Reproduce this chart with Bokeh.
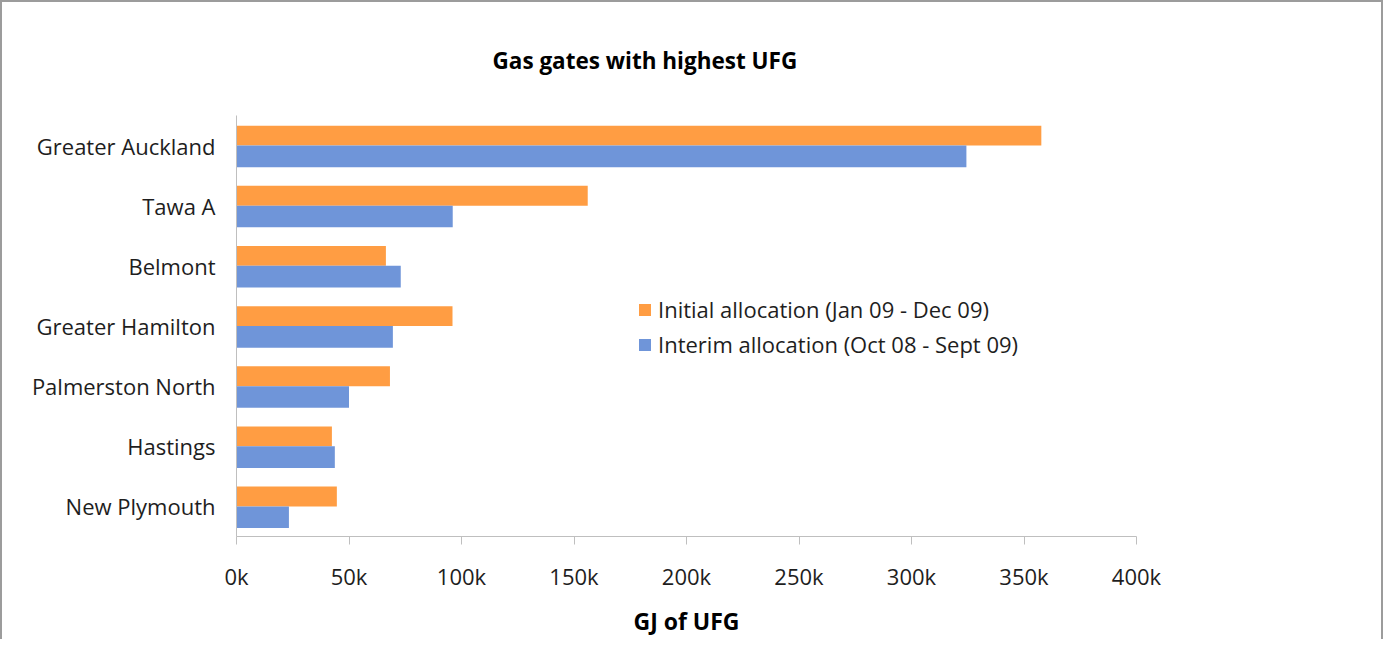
from bokeh.plotting import figure
from bokeh.layouts import column
from bokeh.models import ColumnDataSource, FactorRange, Range1d, FixedTicker, Legend, LegendItem
from bokeh.transform import dodge
from bokeh.embed import file_html
from bokeh.resources import INLINE

categories = ["Greater Auckland", "Tawa A", "Belmont", "Greater Hamilton",
              "Palmerston North", "Hastings", "New Plymouth"]
initial_alloc = [357700, 156100, 66400, 96000, 68200, 42400, 44600]
interim_alloc = [324400, 96100, 73000, 69500, 50000, 43700, 23300]
tick_values = [0, 50000, 100000, 150000, 200000, 250000, 300000, 350000, 400000]
tick_labels = ["0k", "50k", "100k", "150k", "200k", "250k", "300k", "350k", "400k"]
series_names = ["Initial allocation (Jan 09 - Dec 09)", "Interim allocation (Oct 08 - Sept 09)"]
title_text = "Gas gates with highest UFG"
x_title = "GJ of UFG"

ORANGE = "#FF9D43"
BLUE = "#6F95D9"
FONT = "Open Sans"
TXT = "#1E1E1E"

src = ColumnDataSource(dict(cat=categories, initial=initial_alloc, interim=interim_alloc))

p = figure(width=1379, height=637, output_backend="svg", toolbar_location=None,
           y_range=FactorRange(factors=list(reversed(categories)), range_padding=0),
           x_range=Range1d(0, 400000),
           min_border_left=234, min_border_right=245, min_border_top=113, min_border_bottom=102)
p.outline_line_color = None
p.background_fill_color = "white"
p.border_fill_color = "white"

p.title.text = title_text
p.title.text_font = FONT
p.title.text_font_style = "bold"
p.title.text_font_size = "22.5px"
p.title.text_color = "black"
p.title.align = "left"
p.title.offset = 256
p.title.standoff = 79

r1 = p.hbar(y=dodge("cat", 0.165, range=p.y_range), right="initial", left=0, height=0.33,
            source=src, fill_color=ORANGE, line_color=None)
r2 = p.hbar(y=dodge("cat", -0.18, range=p.y_range), right="interim", left=0, height=0.36,
            source=src, fill_color=BLUE, line_color=None)

p.xgrid.visible = False
p.ygrid.visible = False

xa = p.xaxis[0]
xa.ticker = FixedTicker(ticks=tick_values)
xa.major_label_overrides = {v: l for v, l in zip(tick_values, tick_labels)}
xa.minor_tick_line_color = None
xa.major_tick_in = 0
xa.major_tick_out = 8
xa.major_tick_line_color = "#BFBFBF"
xa.axis_line_color = "#BFBFBF"
xa.major_label_text_font = FONT
xa.major_label_text_font_size = "22px"
xa.major_label_text_color = TXT
xa.major_label_standoff = 16
xa.axis_label = x_title
xa.axis_label_text_font = FONT
xa.axis_label_text_font_style = "bold"
xa.axis_label_text_font_size = "23px"
xa.axis_label_text_color = "black"
xa.axis_label_standoff = 11

ya = p.yaxis[0]
ya.major_tick_line_color = None
ya.minor_tick_line_color = None
ya.axis_line_color = "#BFBFBF"
ya.major_label_text_font = FONT
ya.major_label_text_font_size = "22px"
ya.major_label_text_color = TXT
ya.major_label_standoff = 15

legend = Legend(items=[LegendItem(label=series_names[0], renderers=[r1]),
                       LegendItem(label=series_names[1], renderers=[r2])],
                location=(401, 177), orientation="vertical")
legend.border_line_color = None
legend.background_fill_alpha = 0
legend.padding = 0
legend.margin = 0
legend.glyph_width = 15
legend.glyph_height = 15
legend.label_standoff = 6
legend.spacing = 5
legend.label_text_font = FONT
legend.label_text_font_size = "22px"
legend.label_text_color = TXT
p.add_layout(legend)

layout = column(p, styles={"border-left": "2px solid #9c9c9c",
                           "border-top": "2px solid #9c9c9c",
                           "border-right": "2px solid #9c9c9c",
                           "background-color": "white"})

open("out.html", "w").write(file_html(layout, INLINE))
